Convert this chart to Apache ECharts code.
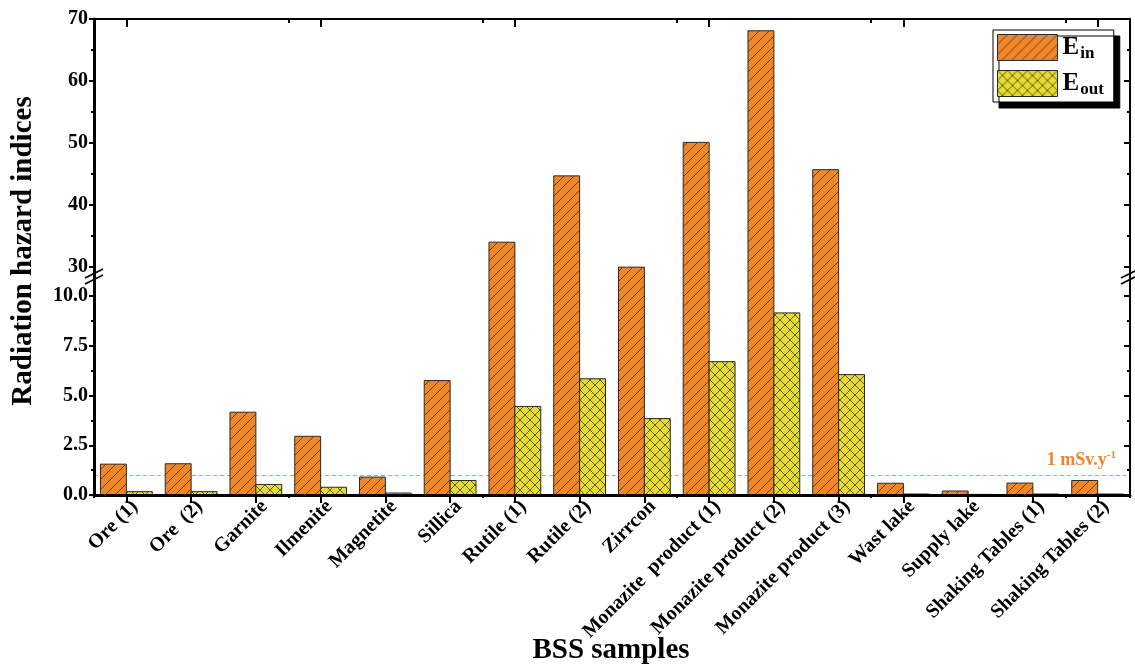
<!DOCTYPE html>
<html><head><meta charset="utf-8">
<script src="https://cdn.jsdelivr.net/npm/echarts@6/dist/echarts.min.js"></script>
<style>html,body{margin:0;padding:0;background:#fff}#c{width:1135px;height:665px}</style>
</head><body><div id="c"></div>
<script>
// ---------- data ----------
const categories = ['Ore (1)', 'Ore  (2)', 'Garnite', 'Ilmenite', 'Magnetite', 'Sillica', 'Rutile (1)', 'Rutile (2)', 'Zirrcon',
  'Monazite  product (1)', 'Monazite product (2)', 'Monazite product (3)', 'Wast lake', 'Supply lake',
  'Shaking Tables (1)', 'Shaking Tables (2)'];
const eIn  = [1.55, 1.57, 4.16, 2.95, 0.90, 5.75, 34.0, 44.7, 29.9, 50.1, 68.1, 45.7, 0.59, 0.20, 0.60, 0.73];
const eOut = [0.17, 0.17, 0.53, 0.39, 0.10, 0.73, 4.45, 5.84, 3.84, 6.70, 9.15, 6.05, 0.05, 0.03, 0.05, 0.05];
const seriesNames = ['Ein', 'Eout'];
const upperRange = [30, 70];
const upperStep = 10;
const middleRange = [10, 30];
const lowerRange = [0, 10];
const lowerStep = 2.5;
const refValue = 1;
const refLabel = '1 mSv.y';
const refLabelSup = '-1';
const yTitle = 'Radiation hazard indices';
const xTitle = 'BSS samples';

// ---------- styles ----------
const FONT = '"Liberation Serif", "Times New Roman", serif';
const ORANGE = '#F0862A';
const YELLOW = '#E4DC32';
const REFLINE = '#F59A45';
const EDGE = '#2a2a2a';

function makePattern(bg, cross) {
  const s = 10;
  const c = document.createElement('canvas');
  c.width = s; c.height = s;
  const g = c.getContext('2d');
  g.fillStyle = bg; g.fillRect(0, 0, s, s);
  g.strokeStyle = 'rgba(40,28,5,0.85)';
  g.lineWidth = 0.8;
  g.beginPath();
  g.moveTo(-1, s + 1); g.lineTo(s + 1, -1);
  g.moveTo(-1, 1); g.lineTo(1, -1);
  g.moveTo(s - 1, s + 1); g.lineTo(s + 1, s - 1);
  if (cross) {
    g.moveTo(-1, -1); g.lineTo(s + 1, s + 1);
    g.moveTo(s - 1, -1); g.lineTo(s + 1, 1);
    g.moveTo(-1, s - 1); g.lineTo(1, s + 1);
  }
  g.stroke();
  return { image: c, repeat: 'repeat' };
}
const patterns = [makePattern(ORANGE, false), makePattern(YELLOW, true)];

// ---------- layout ----------
const L = 94, R = 5;
const gUpper = { left: L, right: R, top: 19, height: 248 };
const gMid = { left: L, right: R, top: 267, height: 29 };
const gLower = { left: L, right: R, top: 296, height: 199 };

const labelStyle = { fontFamily: FONT, fontWeight: 'bold', fontSize: 20, color: '#000' };
const axisLine = { show: true, lineStyle: { color: '#000', width: 2 } };

function barRenderer(side) {
  return function (params, api) {
    const cs = params.coordSys;
    const idx = api.value(0), v = api.value(1);
    const band = api.size([1, 0])[0];
    const w = band * 0.4;
    const p0 = api.coord([idx, 0]);
    const x0 = side === 0 ? p0[0] - w : p0[0];
    const yBottom = cs.y + cs.height;
    const yZero = Math.min(p0[1], yBottom);
    const yVal = api.coord([idx, v])[1];
    const yTop = Math.max(yVal, cs.y);
    if (yTop >= yZero - 0.01) return null;
    const clipped = yVal < cs.y;
    const children = [{
      type: 'rect', shape: { x: x0, y: yTop, width: w, height: yZero - yTop },
      style: { fill: patterns[side], stroke: null }
    }];
    if (clipped) {
      children.push({ type: 'line', shape: { x1: x0, y1: yTop, x2: x0, y2: yZero }, style: { stroke: EDGE, lineWidth: 1 } });
      children.push({ type: 'line', shape: { x1: x0 + w, y1: yTop, x2: x0 + w, y2: yZero }, style: { stroke: EDGE, lineWidth: 1 } });
    } else {
      children.push({ type: 'polyline', shape: { points: [[x0, yZero], [x0, yTop], [x0 + w, yTop], [x0 + w, yZero]] },
        style: { stroke: EDGE, fill: null, lineWidth: 1 } });
    }
    return { type: 'group', children };
  };
}

function refRenderer(params, api) {
  const cs = params.coordSys;
  const y = Math.round(api.coord([0, api.value(1)])[1]) + 0.5;
  return {
    type: 'group', children: [
      { type: 'line', shape: { x1: cs.x, y1: y, x2: cs.x + cs.width, y2: y },
        style: { stroke: REFLINE, lineWidth: 1, lineDash: [4, 3] } },
      { type: 'text', x: cs.x + cs.width - 14, y: y - 5,
        style: {
          text: refLabel + '{s|' + refLabelSup + '}', align: 'right', verticalAlign: 'bottom',
          font: 'bold 18px ' + FONT, fill: ORANGE,
          rich: { s: { font: 'bold 11px ' + FONT, fill: ORANGE, padding: [0, 0, 10, 0] } }
        } }
    ]
  };
}

const valuesBySeries = [eIn, eOut];
const series = [];
// grid index -> (xAxisIndex, yAxisIndex)
const gridAxes = [[0, 0], [2, 2], [3, 4]];
gridAxes.forEach(function (ax) {
  valuesBySeries.forEach(function (vals, s) {
    series.push({
      type: 'custom', name: seriesNames[s], xAxisIndex: ax[0], yAxisIndex: ax[1],
      renderItem: barRenderer(s), encode: { x: 0, y: 1 },
      itemStyle: { color: patterns[s], borderColor: EDGE, borderWidth: 1 },
      data: vals.map(function (v, i) { return [i, v]; }),
      z: 2
    });
  });
});
series.push({
  type: 'custom', name: 'ref', xAxisIndex: 3, yAxisIndex: 4, silent: true, z: 1,
  renderItem: refRenderer, encode: { x: 0, y: 1 },
  data: [[0, refValue]]
});

function breakMark(x, yc) {
  return {
    type: 'group', z: 100, children: [
      { type: 'polygon', shape: { points: [[x - 9, yc + 1], [x + 9, yc - 8], [x + 9, yc - 2], [x - 9, yc + 7]] }, style: { fill: '#fff' } },
      { type: 'line', shape: { x1: x - 9, y1: yc + 1, x2: x + 9, y2: yc - 8 }, style: { stroke: '#000', lineWidth: 1.6 } },
      { type: 'line', shape: { x1: x - 9, y1: yc + 7, x2: x + 9, y2: yc - 2 }, style: { stroke: '#000', lineWidth: 1.6 } }
    ]
  };
}

const option = {
  animation: false,
  backgroundColor: '#fff',
  grid: [gUpper, gMid, gLower],
  xAxis: [
    { gridIndex: 0, type: 'category', data: categories, position: 'top', z: 5, axisLine: axisLine,
      axisTick: { show: true, inside: true, alignWithLabel: true, length: 8, lineStyle: { color: '#000', width: 2 } },
      axisLabel: { show: false }, splitLine: { show: false } },
    { gridIndex: 0, type: 'category', data: categories, position: 'top', z: 5, axisLine: { show: false },
      axisTick: { show: true, inside: true, length: 4, lineStyle: { color: '#000', width: 2 } },
      axisLabel: { show: false }, splitLine: { show: false } },
    { gridIndex: 1, type: 'category', data: categories, show: false },
    { gridIndex: 2, type: 'category', data: categories, position: 'bottom', z: 5, axisLine: { show: true, lineStyle: { color: '#000', width: 3 } },
      axisTick: { show: true, alignWithLabel: true, length: 8, lineStyle: { color: '#000', width: 2 } },
      axisLabel: Object.assign({ rotate: 45, interval: 0, margin: 17, padding: [0, -12, 0, 0] }, labelStyle, { fontSize: 20 }), splitLine: { show: false } },
    { gridIndex: 2, type: 'category', data: categories, position: 'bottom', z: 5, axisLine: { show: false },
      axisTick: { show: true, length: 3, lineStyle: { color: '#000', width: 2 } },
      axisLabel: { show: false }, splitLine: { show: false } }
  ],
  yAxis: [
    { gridIndex: 0, type: 'value', min: upperRange[0], max: upperRange[1], interval: upperStep, position: 'left', z: 5,
      axisLine: { show: true, lineStyle: { color: '#000', width: 3 } },
      axisTick: { show: true, length: 5, lineStyle: { color: '#000', width: 2 } },
      minorTick: { show: true, splitNumber: 2, length: 3, lineStyle: { color: '#000', width: 2 } },
      axisLabel: Object.assign({ margin: 6 }, labelStyle), splitLine: { show: false } },
    { gridIndex: 0, type: 'value', min: upperRange[0], max: upperRange[1], interval: upperStep, position: 'right', z: 5,
      axisLine: axisLine,
      axisTick: { show: true, inside: true, length: 6, lineStyle: { color: '#000', width: 2 } },
      minorTick: { show: true, splitNumber: 2, length: 3, lineStyle: { color: '#000', width: 2 } },
      axisLabel: { show: false }, splitLine: { show: false } },
    { gridIndex: 1, type: 'value', min: middleRange[0], max: middleRange[1], position: 'left', z: 5,
      axisLine: { show: true, lineStyle: { color: '#000', width: 3 } }, axisTick: { show: false }, axisLabel: { show: false }, splitLine: { show: false } },
    { gridIndex: 1, type: 'value', min: middleRange[0], max: middleRange[1], position: 'right', z: 5,
      axisLine: axisLine, axisTick: { show: false }, axisLabel: { show: false }, splitLine: { show: false } },
    { gridIndex: 2, type: 'value', min: lowerRange[0], max: lowerRange[1], interval: lowerStep, position: 'left', z: 5,
      axisLine: { show: true, lineStyle: { color: '#000', width: 3 } },
      axisTick: { show: true, length: 5, lineStyle: { color: '#000', width: 2 } },
      minorTick: { show: true, splitNumber: 2, length: 3, lineStyle: { color: '#000', width: 2 } },
      axisLabel: Object.assign({ margin: 6, formatter: function (v) { return v.toFixed(1); } }, labelStyle), splitLine: { show: false } },
    { gridIndex: 2, type: 'value', min: lowerRange[0], max: lowerRange[1], interval: lowerStep, position: 'right', z: 5,
      axisLine: axisLine,
      axisTick: { show: true, inside: true, length: 6, lineStyle: { color: '#000', width: 2 } },
      minorTick: { show: true, splitNumber: 2, length: 3, lineStyle: { color: '#000', width: 2 } },
      axisLabel: { show: false }, splitLine: { show: false } }
  ],
  legend: {
    orient: 'vertical', left: 993, top: 30, itemWidth: 60, itemHeight: 26, itemGap: 8,
    padding: [4, 10, 4, 4], backgroundColor: '#fff', borderColor: '#000', borderWidth: 1,
    shadowColor: '#000', shadowBlur: 0, shadowOffsetX: 6, shadowOffsetY: 6,
    data: seriesNames.map(function (n, s) {
      return { name: n, icon: 'rect', itemStyle: { color: patterns[s], borderColor: EDGE, borderWidth: 1 } };
    }),
    formatter: function (n) { return '{b|E}{s|' + n.slice(1) + '}'; },
    textStyle: {
      rich: {
        b: { fontFamily: FONT, fontWeight: 'bold', fontSize: 25, color: '#000' },
        s: { fontFamily: FONT, fontWeight: 'bold', fontSize: 17, color: '#000', padding: [12, 0, 0, 1] }
      }
    }
  },
  graphic: [
    { type: 'text', x: 24, y: 251, rotation: Math.PI / 2, z: 10,
      style: { text: yTitle, font: 'bold 29px ' + FONT, fill: '#000', align: 'center', verticalAlign: 'middle' } },
    { type: 'text', x: 611, y: 651, z: 10,
      style: { text: xTitle, font: 'bold 29px ' + FONT, fill: '#000', align: 'center', verticalAlign: 'middle' } },
    breakMark(L, 277),
    breakMark(1135 - R, 277)
  ],
  series: series
};

const chart = echarts.init(document.getElementById('c'), null, { renderer: 'canvas' });
chart.setOption(option);
</script>
</body></html>
